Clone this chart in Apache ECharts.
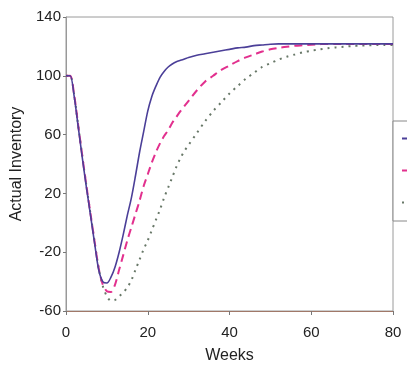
<!DOCTYPE html>
<html>
<head>
<meta charset="utf-8">
<script src="https://cdn.jsdelivr.net/npm/echarts@6/dist/echarts.min.js"></script>
<style>
html,body{margin:0;padding:0;background:#ffffff;}
#chart{width:407px;height:373px;}
</style>
</head>
<body>
<div id="chart"></div>
<script>
var weeks = [0,1,2,3,4,5,6,7,8,9,10,11,12,13,14,15,16,17,18,19,20,21,22,23,24,25,26,27,28,29,30,
  32,34,36,38,40,42,44,46,48,50,52,54,56,58,60,62,64,66,68,70,72,74,76,78,80];

var seriesA = [100,100,86,65,44,24,5,-14,-32,-40,-41,-37,-30,-20,-8,5,17,32,48,62,76,86,93,99,103,106,108,109.5,110.5,111.5,112.5,
  114,115,116,117,118,119,119.5,120.5,121,121.5,121.7,121.7,121.7,121.7,121.7,121.7,121.7,121.7,121.7,121.7,121.7,121.7,121.7,121.7,121.7];

var seriesB = [100,100,87,66,45,25,6,-13,-31,-42,-46.5,-47,-42,-32,-22,-12,-3,6,15,25,33,41,48,54,59,63,68,72,76,79.5,83,
  90,96,100,104,107,110,112.5,114.5,116.5,118,119,119.8,120.4,120.8,121.2,121.5,121.7,121.7,121.7,121.7,121.7,121.7,121.7,121.7,121.7];

var seriesC = [100,100,87,66,45,25,6,-13,-31,-43,-50,-53,-52.5,-50,-47.5,-44,-39,-32,-25,-18,-12,-5,2,9,17,24,31,38,44,49,53,
  61,69,76,82,88,93,98,102,106,108.5,111,113,114.5,116,117,118,118.7,119.3,119.8,120.2,120.5,120.7,120.9,121,121];

var seriesNames = ['Series 1', 'Series 2', 'Series 3'];
var xTicks = [0, 20, 40, 60, 80];
var yTicks = [-60, -20, 20, 60, 100, 140];

function pairs(vals){ return weeks.map(function(w,i){ return [w, vals[i]]; }); }

var chart = echarts.init(document.getElementById('chart'), null, {renderer:'canvas'});
chart.setOption({
  backgroundColor: '#ffffff',
  animation: false,
  grid: {left: 66, right: 14, top: 17, bottom: 62, show: true, borderColor: '#9a9a9a', borderWidth: 1, backgroundColor: 'transparent'},
  legend: {
    left: 393, top: 121, orient: 'vertical', itemWidth: 24, itemHeight: 14, itemGap: 19,
    padding: [11, 6, 12, 8], borderColor: '#888888', borderWidth: 1, backgroundColor: '#ffffff',
    textStyle: {fontFamily: 'Liberation Sans', fontSize: 13, color: '#222'},
    data: seriesNames
  },
  xAxis: {
    type: 'value', min: xTicks[0], max: xTicks[xTicks.length-1], interval: 20,
    name: 'Weeks', nameLocation: 'middle', nameGap: 37,
    nameTextStyle: {fontFamily: 'Liberation Sans', fontSize: 16, color: '#222'},
    axisLine: {show: true, onZero: false, lineStyle: {color: '#a07868', width: 1}},
    axisTick: {show: true, length: 4, lineStyle: {color: '#777'}},
    axisLabel: {fontFamily: 'Liberation Sans', fontSize: 15, color: '#222', margin: 14},
    splitLine: {show: false}
  },
  yAxis: {
    type: 'value', min: yTicks[0], max: yTicks[yTicks.length-1], interval: 40,
    name: 'Actual Inventory', nameLocation: 'middle', nameGap: 40, nameRotate: 90,
    nameTextStyle: {fontFamily: 'Liberation Sans', fontSize: 16, color: '#222'},
    axisLine: {show: true, onZero: false, lineStyle: {color: '#999', width: 1}},
    axisTick: {show: true, length: 3, lineStyle: {color: '#777'}},
    axisLabel: {fontFamily: 'Liberation Sans', fontSize: 15, color: '#222', margin: 5},
    splitLine: {show: false}
  },
  series: [
    {name: seriesNames[0], type: 'line', symbol: 'none', smooth: 0.3, data: pairs(seriesA), z: 4,
     lineStyle: {color: '#4b3f98', width: 1.6, type: 'solid'}, itemStyle: {color: '#4b3f98'}},
    {name: seriesNames[1], type: 'line', symbol: 'none', smooth: 0.3, data: pairs(seriesB), z: 3,
     lineStyle: {color: '#e2308e', width: 2, type: [8, 5]}, itemStyle: {color: '#e2308e'}},
    {name: seriesNames[2], type: 'line', symbol: 'none', smooth: 0.3, data: pairs(seriesC), z: 2,
     lineStyle: {color: '#687868', width: 2, type: [2, 5]}, itemStyle: {color: '#687868'}}
  ]
});
</script>
</body>
</html>
